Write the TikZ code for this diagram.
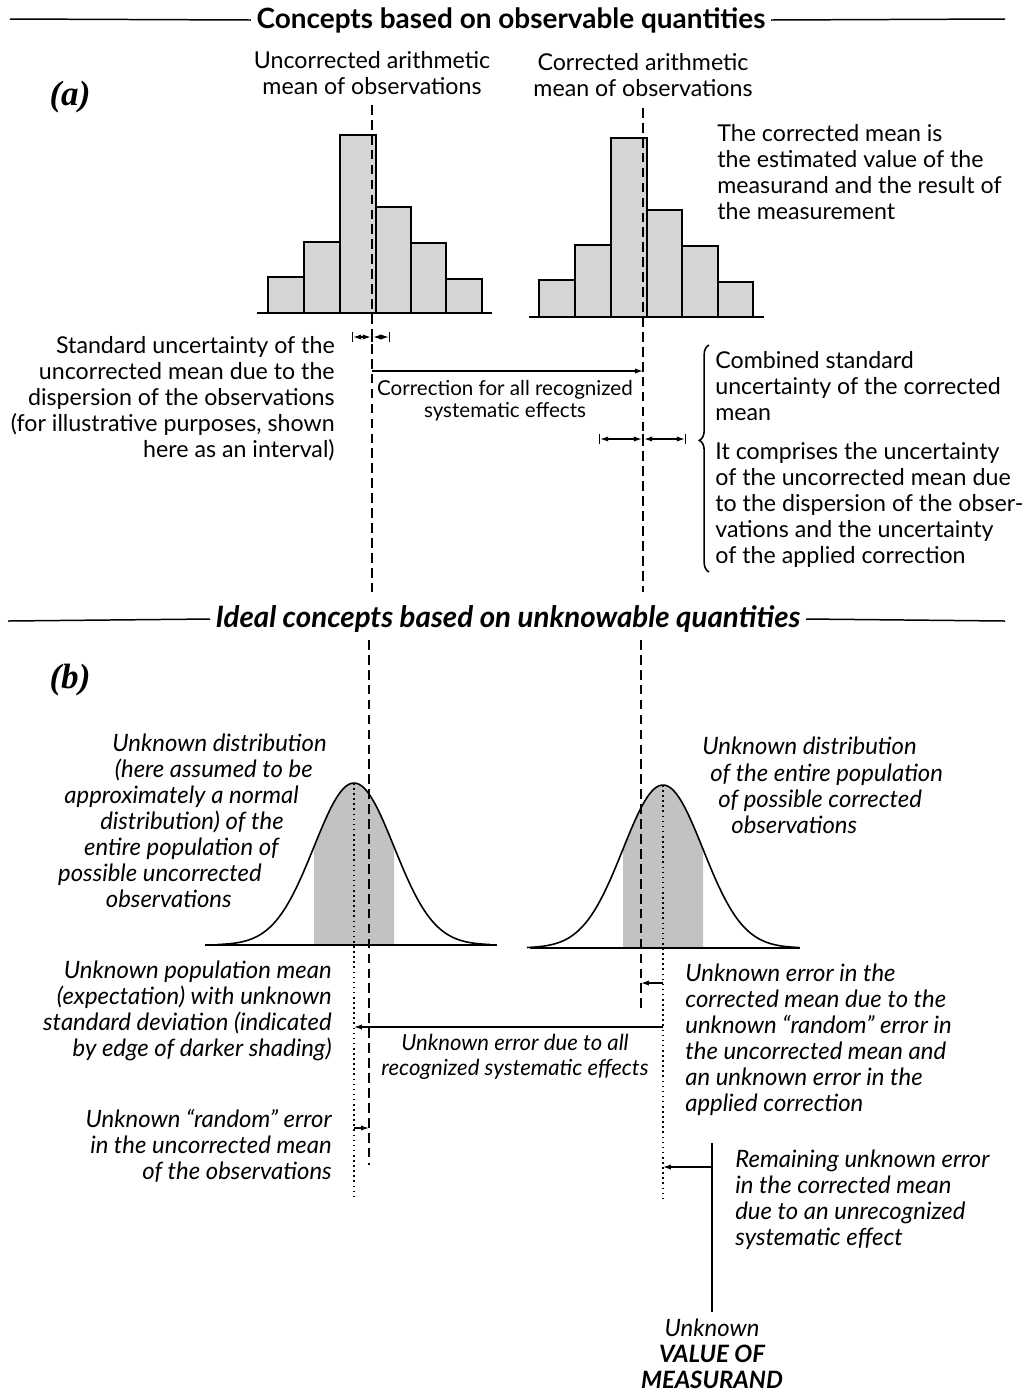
\documentclass[tikz,border=0pt]{standalone}
\usepackage{fontspec}
\setmainfont{Lato}
\newfontfamily\partfont{Liberation Serif}
\usetikzlibrary{arrows.meta,decorations.pathreplacing}

\begin{document}
\begin{tikzpicture}[x=0.02cm, y=-0.02cm, >={Latex[length=4.5pt,width=3pt]},
    txt/.style={inner sep=0pt, font=\fontsize{13.2}{14.8}\selectfont},
    itxt/.style={inner sep=0pt, font=\fontsize{13.6}{14.8}\selectfont\itshape},
    small/.style={inner sep=0pt, font=\fontsize{11.7}{12.5}\selectfont},
    heading/.style={inner sep=3pt, font=\fontsize{15.9}{18}\selectfont\bfseries},
    part/.style={inner sep=0pt, font=\fontsize{20}{22}\selectfont\partfont\bfseries\itshape},
    bar/.style={draw, line width=0.85pt, fill=gray!33},
    axis/.style={line width=0.85pt},
    meanline/.style={line width=0.7pt, dash pattern=on 5.5pt off 3pt},
    popline/.style={line width=1pt, dash pattern=on 0.9pt off 2pt},
    conn/.style={->, line width=0.75pt},
    dimline/.style={|<->|, line width=0.7pt},
    curve/.style={line width=0.9pt},
    shade/.style={fill=gray!48}]
    \useasboundingbox (0,0) rectangle (1034,1394);

    % Headings {a, b}
    \node [heading]                 (hA)  at (511,20)   {Concepts based on observable quantities};
    \node [heading, font=\fontsize{16.8}{18}\selectfont\bfseries\itshape]
                                    (hB)  at (508,619)  {Ideal concepts based on unknowable quantities};
    \coordinate (hAl) at (10,19);   \coordinate (hAr) at (1005,19);
    \coordinate (hBl) at (8,621);   \coordinate (hBr) at (1005,621);
    \draw [axis] (hAl) -- (hA.west);  \draw [axis] (hA.east) -- (hAr);
    \draw [axis] (hBl) -- (hB.west);  \draw [axis] (hB.east) -- (hBr);
    \node [part]                    (pA)  at (70,97)    {(a)};
    \node [part]                    (pB)  at (70,680)   {(b)};

    % Histograms {uncorrected, corrected}
    \draw [bar] (268,313) rectangle (304,277);
    \draw [bar] (304,313) rectangle (340,242);
    \draw [bar] (340,313) rectangle (376,135);
    \draw [bar] (376,313) rectangle (411,207);
    \draw [bar] (411,313) rectangle (446,243);
    \draw [bar] (446,313) rectangle (482,279);
    \draw [bar] (539,317) rectangle (575,280);
    \draw [bar] (575,317) rectangle (611,245);
    \draw [bar] (611,317) rectangle (647,138);
    \draw [bar] (647,317) rectangle (682,210);
    \draw [bar] (682,317) rectangle (718,246);
    \draw [bar] (718,317) rectangle (753,282);
    \draw [axis] (257,313) -- (492,313);
    \draw [axis] (529,317) -- (764,317);

    % Mean lines (a)
    \coordinate (umA) at (372,105);  \coordinate (umB) at (372,592);
    \coordinate (cmA) at (643,108);  \coordinate (cmB) at (643,592);
    \draw [meanline] (umA) -- (umB);
    \draw [meanline] (cmA) -- (cmB);

    % Labels (a)
    \node [txt, anchor=north, align=center]      (uMean) at (372,51)  {Uncorrected arithmetic\\mean of observations};
    \node [txt, anchor=north, align=center]      (cMean) at (643,53)  {Corrected arithmetic\\mean of observations};
    \node [txt, anchor=north west, align=left]   (cRes)  at (717,124) {The corrected mean is\\the estimated value of the\\measurand and the result of\\the measurement};
    \node [txt, anchor=north east, align=right]  (sUnc)  at (335,336) {Standard uncertainty of the\\uncorrected mean due to the\\dispersion of the observations\\(for illustrative purposes, shown\\here as an interval)};
    \node [small, anchor=north, align=center]    (corr)  at (505,380) {Correction for all recognized\\systematic effects};
    \node [txt, anchor=north west, align=left]   (cUnc)  at (715,351) {Combined standard\\uncertainty of the corrected\\mean};
    \node [txt, anchor=north west, align=left]   (cComp) at (715,442) {It comprises the uncertainty\\of the uncorrected mean due\\to the dispersion of the obser-\\vations and the uncertainty\\of the applied correction};

    % Intervals and correction (a)
    \coordinate (su1) at (352,337);  \coordinate (su0) at (372,337);  \coordinate (su2) at (390,337);
    \coordinate (cu1) at (599,439);  \coordinate (cu0) at (643,439);  \coordinate (cu2) at (686,439);
    \coordinate (co1) at (372,371);  \coordinate (co2) at (643,371);
    \draw [dimline] (su1) -- (su0);  \draw [dimline] (su0) -- (su2);
    \draw [dimline] (cu1) -- (cu0);  \draw [dimline] (cu0) -- (cu2);
    \path [conn]    (co1) edge (co2);
    \coordinate (brB) at (709,572);  \coordinate (brT) at (709,345);
    \draw [line width=0.9pt, decorate, decoration={brace, amplitude=5.5pt, aspect=0.58}] (brB) -- (brT);

    % Distributions (b)
    \fill [shade] (314,945) -- plot [domain=-40:40, samples=30, smooth] ({354+\x},{945-162*exp(-0.5*(\x/40)^2)}) -- (394,945) -- cycle;
    \fill [shade] (623,948) -- plot [domain=-40:40, samples=30, smooth] ({663+\x},{948-163*exp(-0.5*(\x/40)^2)}) -- (703,948) -- cycle;
    \draw [curve] plot [domain=-136:136, samples=90, smooth] ({354+\x},{945-162*exp(-0.5*(\x/40)^2)});
    \draw [curve] plot [domain=-136:136, samples=90, smooth] ({663+\x},{948-163*exp(-0.5*(\x/40)^2)});
    \draw [axis] (205,945) -- (497,945);
    \draw [axis] (530,948) -- (800,948);

    % Mean lines (b)
    \coordinate (umC) at (369,640);  \coordinate (umD) at (369,1165);
    \coordinate (cmC) at (641,640);  \coordinate (cmD) at (641,1010);
    \coordinate (pmA) at (354,783);  \coordinate (pmB) at (354,1200);
    \coordinate (tvA) at (663,785);  \coordinate (tvB) at (663,1200);
    \draw [meanline] (umC) -- (umD);
    \draw [meanline] (cmC) -- (cmD);
    \draw [popline]  (pmA) -- (pmB);
    \draw [popline]  (tvA) -- (tvB);

    % Errors (b)
    \coordinate (e1a) at (663,983);  \coordinate (e1b) at (641,983);
    \coordinate (e2a) at (663,1027); \coordinate (e2b) at (354,1027);
    \coordinate (e3a) at (354,1128); \coordinate (e3b) at (369,1128);
    \coordinate (e4a) at (712,1167); \coordinate (e4b) at (663,1167);
    \coordinate (valT) at (712,1143); \coordinate (valB) at (712,1312);
    \path [conn] (e1a) edge (e1b);
    \path [conn] (e2a) edge (e2b);
    \path [conn] (e3a) edge (e3b);
    \path [conn] (e4a) edge (e4b);
    \draw [line width=1.7pt] (valT) -- (valB);

    % Labels (b)
    \node [itxt, anchor=base east]  (ud1) at (327,751) {Unknown distribution};
    \node [itxt, anchor=base east]  (ud2) at (313,777) {(here assumed to be};
    \node [itxt, anchor=base east]  (ud3) at (299,803) {approximately a normal};
    \node [itxt, anchor=base east]  (ud4) at (284,829) {distribution) of the};
    \node [itxt, anchor=base east]  (ud5) at (279,855) {entire population of};
    \node [itxt, anchor=base east]  (ud6) at (262,881) {possible uncorrected};
    \node [itxt, anchor=base east]  (ud7) at (232,907) {observations};
    \node [itxt, anchor=base west]  (cd1) at (702,754) {Unknown distribution};
    \node [itxt, anchor=base west]  (cd2) at (710,781) {of the entire population};
    \node [itxt, anchor=base west]  (cd3) at (718,807) {of possible corrected};
    \node [itxt, anchor=base west]  (cd4) at (731,833) {observations};
    \node [itxt, anchor=north east, align=right] (pMean) at (332,961)  {Unknown population mean\\(expectation) with unknown\\standard deviation (indicated\\by edge of darker shading)};
    \node [itxt, anchor=north east, align=right] (rErr)  at (332,1109) {Unknown “random” error\\in the uncorrected mean\\of the observations};
    \node [itxt, anchor=north, align=center, font=\fontsize{12.6}{14.2}\selectfont\itshape]
                                                 (sErr)  at (515,1034) {Unknown error due to all\\recognized systematic effects};
    \node [itxt, anchor=north west, align=left]  (cErr)  at (685,964)  {Unknown error in the\\corrected mean due to the\\unknown “random” error in\\the uncorrected mean and\\an unknown error in the\\applied correction};
    \node [itxt, anchor=north west, align=left]  (uErr)  at (735,1150) {Remaining unknown error\\in the corrected mean\\due to an unrecognized\\systematic effect};
    \node [itxt, anchor=north, align=center]     (val)   at (712,1319) {Unknown\\\textbf{VALUE OF}\\\textbf{MEASURAND}};

\end{tikzpicture}
\end{document}
